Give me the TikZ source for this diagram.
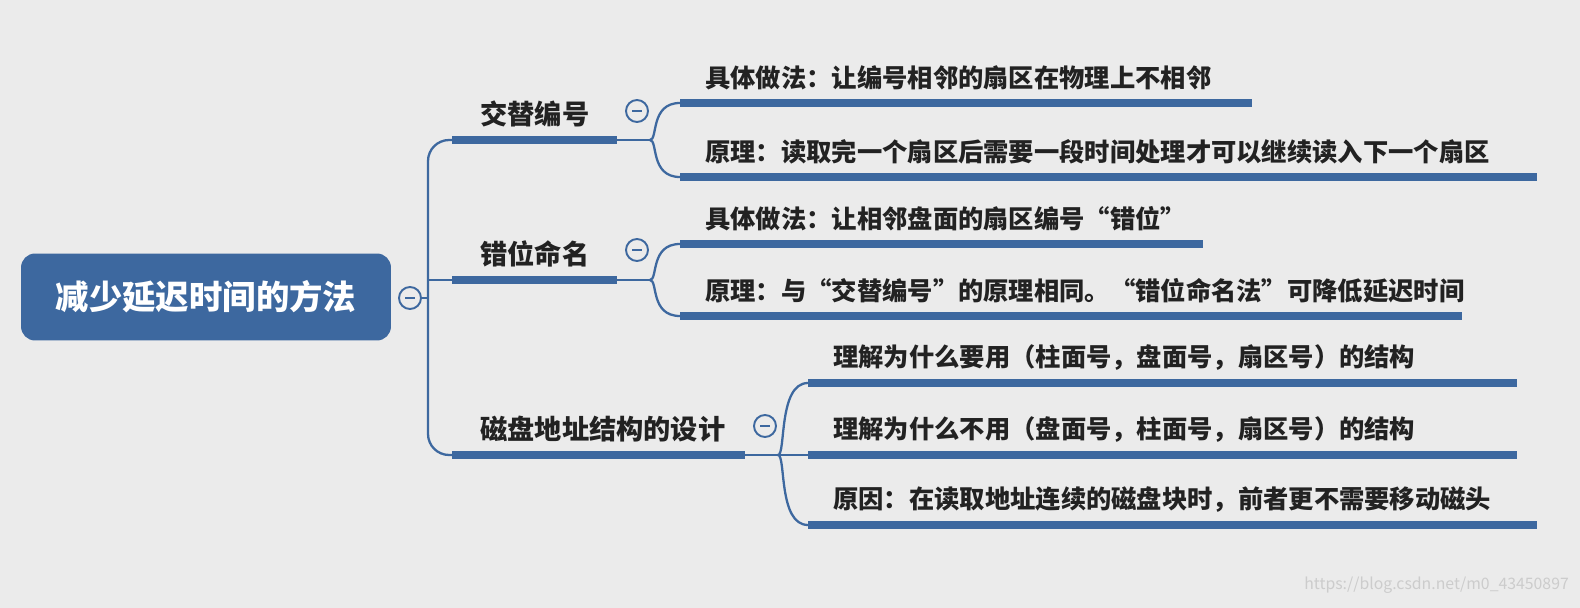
\documentclass[tikz,border=0pt]{standalone}
\usepackage{fontspec}
\setmainfont{Noto Sans CJK SC}
\usetikzlibrary{positioning,calc}
\definecolor{mapblue}{HTML}{3D689F}
\definecolor{bgrey}{HTML}{EBEBEB}
\definecolor{ink}{HTML}{222222}

\begin{document}
\begin{tikzpicture}[x=0.02cm, y=-0.02cm,
  thick line/.style = {draw=mapblue, line width=4.2pt},
  thin line/.style = {draw=mapblue, line width=1.3pt},
  item/.style = {font=\bfseries\fontsize{14.4}{16}\selectfont, text=ink,
    anchor=west, inner sep=0pt},
  fold/.style = {draw=mapblue, fill=bgrey, line width=1.1pt, circle,
    minimum size=0.44cm, inner sep=0pt},
]
  \fill[bgrey] (0,0) rectangle (1580,608);
  \useasboundingbox (0,0) rectangle (1580,608);
  % root
  \node[name=root, fill=mapblue, rounded corners=8pt, minimum width=7.4cm,
    minimum height=1.74cm, text=white, font=\bfseries\fontsize{19}{22}\selectfont]
    at (206,297) {减少延迟时间的方法};
  \node[fold] (f0) at (410,298) {};
  \draw[mapblue, line width=1pt] ($(f0)+(-5,0)$) -- ($(f0)+(5,0)$);
  \draw[thin line] (f0.east) -- (428,298);
  \draw[thin line, rounded corners=12pt] (452,140) -| (428,298) |- (452,455);
  \draw[thin line] (428,298) -- (428,280) -- (452,280);
  % branches
  \foreach \name/\y/\xend/\txt in
    {b1/140/617/交替编号, b2/280/617/错位命名, b3/455/745/磁盘地址结构的设计} {
    \draw[thick line] (452,\y) -- (\xend,\y) coordinate (\name e);
    \node[item, font=\bfseries\fontsize{15.5}{17}\selectfont] (\name) at (480,\y-26) {\txt};
  }
  \node[fold] (f1) at (637,111) {};
  \node[fold] (f2) at (637,250) {};
  \node[fold] (f3) at (765,426) {};
  \foreach \f in {f1,f2,f3}
    \draw[mapblue, line width=1pt] ($(\f)+(-5,0)$) -- ($(\f)+(5,0)$);
  % forks
  \foreach \b/\fx/\fy in {b1/650/140, b2/650/280, b3/778/455}
    \draw[thin line] (\b e) -- (\fx,\fy) coordinate (\b k);
  % leaves
  \foreach \src/\name/\x/\y/\xend/\txt in
    {b1/l1/680/103/1252/具体做法：让编号相邻的扇区在物理上不相邻,
     b1/l2/680/177/1537/原理：读取完一个扇区后需要一段时间处理才可以继续读入下一个扇区,
     b2/l3/680/244/1203/具体做法：让相邻盘面的扇区编号“错位”,
     b2/l4/680/316/1462/原理：与“交替编号”的原理相同。“错位命名法”可降低延迟时间,
     b3/l5/808/383/1517/理解为什么要用（柱面号，盘面号，扇区号）的结构,
     b3/l6/808/455/1517/理解为什么不用（盘面号，柱面号，扇区号）的结构,
     b3/l7/808/525/1537/原因：在读取地址连续的磁盘块时，前者更不需要移动磁头} {
    \coordinate (\name s) at (\x,\y);
    \draw[thin line] (\src k) .. controls ($(\src k)+(8,0)$) and
      ($(\name s)+(-30,0)$) .. (\name s);
    \draw[thick line] (\name s) -- (\xend,\y);
    \node[item] (\name) at (\x+25,\y-25) {\txt};
  }
  \node[anchor=south east, text=white!60!gray, font=\fontsize{9}{10}\selectfont]
    (mark) at (1575,600) {https://blog.csdn.net/m0\_43450897};
\end{tikzpicture}
\end{document}
